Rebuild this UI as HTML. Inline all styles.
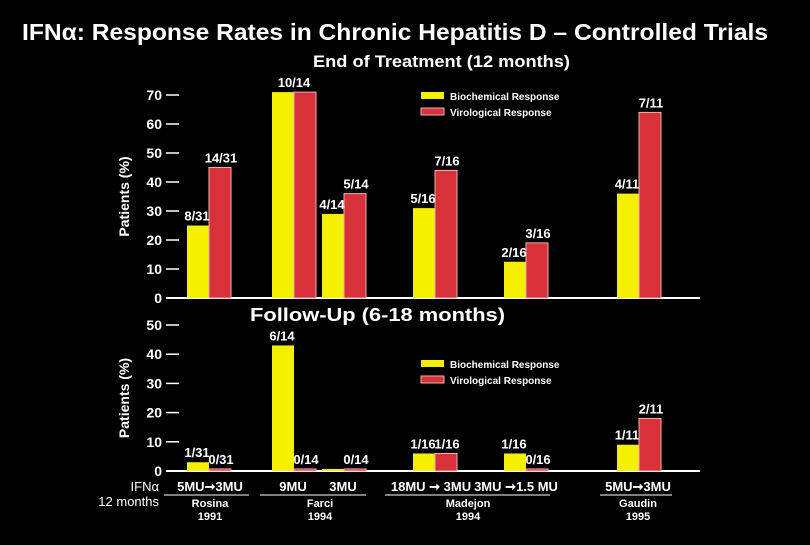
<!DOCTYPE html>
<html><head><meta charset="utf-8"><style>
body{margin:0;background:#000;width:810px;height:540px;overflow:hidden;font-family:"Liberation Sans",sans-serif}
svg text{font-family:"Liberation Sans",sans-serif;fill:#fff}
</style></head><body>
<svg id="c" width="810" height="540">
<text x="22" y="40" font-size="23" font-weight="bold" textLength="746" lengthAdjust="spacingAndGlyphs">IFNα: Response Rates in Chronic Hepatitis D – Controlled Trials</text>
<text x="313" y="67" font-size="17" font-weight="bold" textLength="257" lengthAdjust="spacingAndGlyphs">End of Treatment (12 months)</text>
<text x="250" y="321" font-size="18" font-weight="bold" textLength="255" lengthAdjust="spacingAndGlyphs">Follow-Up (6-18 months)</text>
<g id="g"></g>
</svg>
<script>
const groupX=[187,272,322,413,504,617];
const topBio=[25,71,29,31,12.5,36];
const topVir=[45,71,36,44,19,64];
const topBioLbl=["8/31","10/14","4/14","5/16","2/16","4/11"];
const topVirLbl=["14/31","","5/14","7/16","3/16","7/11"];
const botBio=[3,43,0.7,6,6,9];
const botVir=[0.7,0.7,0.7,6,0.7,18];
const botBioLbl=["1/31","6/14","","1/16","1/16","1/11"];
const botVirLbl=["0/31","0/14","0/14","1/16","0/16","2/11"];
const topTicks=[0,10,20,30,40,50,60,70];
const botTicks=[0,10,20,30,40,50];
const NS="http://www.w3.org/2000/svg";
const g=document.getElementById('g');
function el(t,a,txt){const e=document.createElementNS(NS,t);for(const k in a)e.setAttribute(k,a[k]);if(txt!==undefined)e.textContent=txt;g.appendChild(e);return e;}
function panel(y0,pxPer10,ticks,bio,vir,bl,vl,name,legY){
 const y=v=>y0-v*pxPer10/10;
 let a=el('line',{x1:166,y1:y0,x2:700,y2:y0,stroke:'#fff','stroke-width':2});
 
 ticks.forEach(t=>{
  const l=el('line',{x1:166,y1:y(t),x2:179,y2:y(t),stroke:'#fff','stroke-width':1.5});
  
  const tx=el('text',{x:162,y:y(t)+5,'font-size':14,'font-weight':'bold','text-anchor':'end'},t);
  
 });
 const yc=(y0+y(ticks[ticks.length-1]))/2;
 const yt=el('text',{x:0,y:0,'font-size':14,'font-weight':'bold','text-anchor':'middle',transform:`translate(129,${yc}) rotate(-90)`},'Patients (%)');
 
 groupX.forEach((x,i)=>{
  const b=el('rect',{x:x,y:y(bio[i]),width:22,height:y0-y(bio[i]),fill:'#f5ef00'});
  
  const r=el('rect',{x:x+22,y:y(vir[i]),width:22,height:y0-y(vir[i]),fill:'#d7313a',stroke:'#f0b0b0','stroke-width':1});
  
  if(bl[i]){const t=el('text',{x:x+(i==1&&!vl[i]?22:10),y:y(bio[i])-5,'font-size':13,'font-weight':'bold','text-anchor':'middle'},bl[i]);
   }
  if(vl[i]){const t=el('text',{x:x+34,y:y(vir[i])-5,'font-size':13,'font-weight':'bold','text-anchor':'middle'},vl[i]);
   }
 });
 const l1=el('rect',{x:421,y:legY,width:23,height:7,fill:'#f5ef00'});
 
 const l2=el('rect',{x:421,y:legY+16,width:23,height:7,fill:'#d7313a',stroke:'#f0b0b0'});
 
 const t1=el('text',{x:450,y:legY+8,'font-size':10,'font-weight':'bold'},'Biochemical Response');
 
 const t2=el('text',{x:450,y:legY+24,'font-size':10,'font-weight':'bold'},'Virological Response');
 
}
panel(298,29,topTicks,topBio,topVir,topBioLbl,topVirLbl,'top',92);
panel(471,29.2,botTicks,botBio,botVir,botBioLbl,botVirLbl,'bottom',360);
const doses=[["5MU➞3MU",210],["9MU",293],["3MU",343],["18MU ➞ 3MU",431],["3MU ➞1.5 MU",516],["5MU➞3MU",638]];
doses.forEach(d=>{const t=el('text',{x:d[1],y:491,'font-size':13,'font-weight':'bold','text-anchor':'middle'},d[0]);
 });
const lines=[[164,249],[260,366],[385,550],[600,672]];
lines.forEach(l=>{const e=el('line',{x1:l[0],y1:495,x2:l[1],y2:495,stroke:'#fff','stroke-width':1});
 });
const studies=[["Rosina","1991",210],["Farci","1994",320],["Madejon","1994",468],["Gaudin","1995",638]];
studies.forEach(s=>{
 const a=el('text',{x:s[2],y:507,'font-size':11,'font-weight':'bold','text-anchor':'middle'},s[0]);
 
 const b=el('text',{x:s[2],y:520,'font-size':11,'font-weight':'bold','text-anchor':'middle'},s[1]);
 
});
let t=el('text',{x:159,y:491,'font-size':13,'text-anchor':'end'},'IFNα');

t=el('text',{x:159,y:506,'font-size':13,'text-anchor':'end'},'12 months');

</script>
</body></html>
